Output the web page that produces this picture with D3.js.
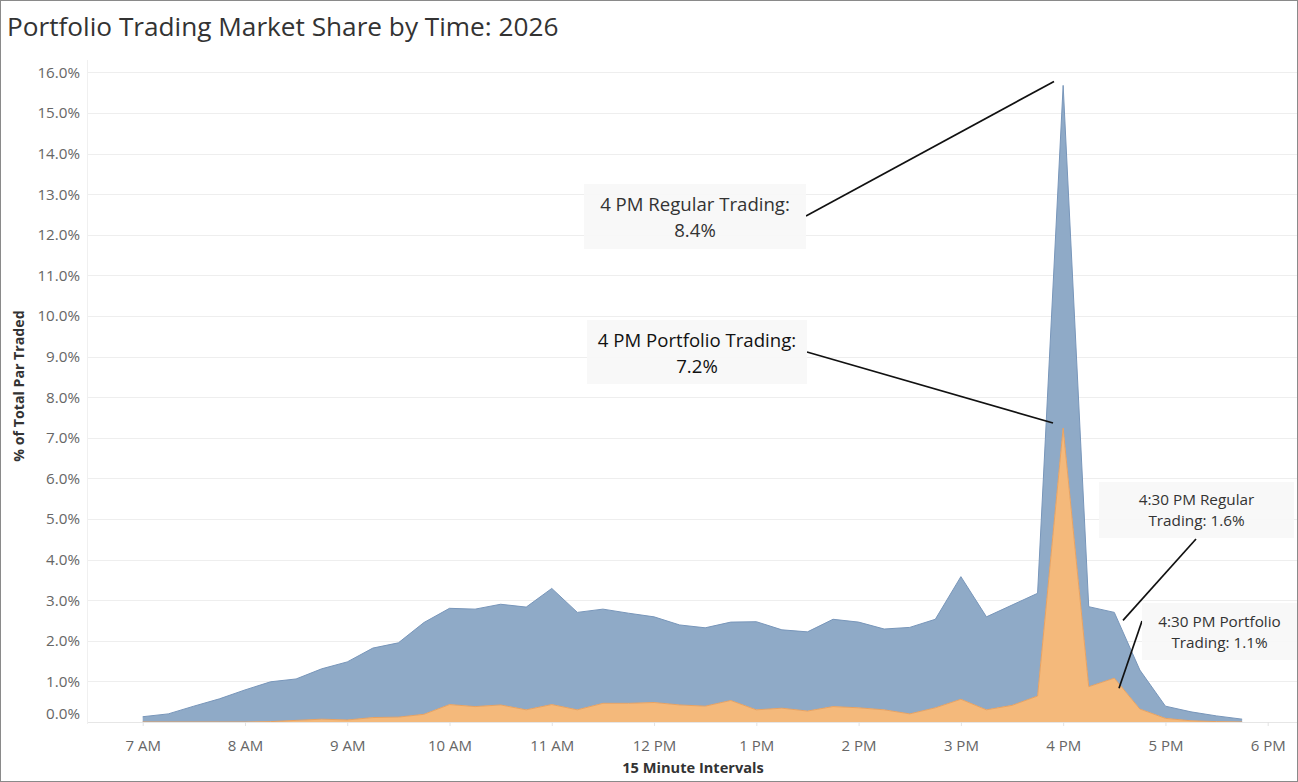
<!DOCTYPE html>
<html>
<head>
<meta charset="utf-8">
<script src="https://cdn.jsdelivr.net/npm/d3@7"></script>
<style>
  html, body { margin: 0; padding: 0; background: #fff; }
  svg { display: block; font-family: "Open Sans", "Noto Sans", sans-serif; }
</style>
</head>
<body>
<svg id="chart" width="1298" height="782"></svg>
<script>
// ---- Data (percent of total par traded, 15-minute intervals) ----
const times = ["7:00","7:15","7:30","7:45","8:00","8:15","8:30","8:45","9:00","9:15","9:30","9:45",
  "10:00","10:15","10:30","10:45","11:00","11:15","11:30","11:45","12:00","12:15","12:30","12:45",
  "13:00","13:15","13:30","13:45","14:00","14:15","14:30","14:45","15:00","15:15","15:30","15:45",
  "16:00","16:15","16:30","16:45","17:00","17:15","17:30","17:45"];
const portfolio = [0,0,0,0, 0,0.01,0.04,0.07, 0.05,0.11,0.12,0.19,
  0.43,0.38,0.42,0.30, 0.43,0.30,0.46,0.46, 0.48,0.42,0.39,0.53,
  0.30,0.34,0.27,0.38, 0.35,0.30,0.20,0.35, 0.56,0.30,0.41,0.64,
  7.24,0.87,1.08,0.32, 0.09,0.03,0.01,0.0];
const regular = [0.13,0.20,0.39,0.57, 0.79,0.98,1.02,1.24, 1.43,1.71,1.83,2.26,
  2.37,2.40,2.48,2.53, 2.86,2.40,2.32,2.22, 2.11,1.97,1.93,1.93,
  2.17,1.93,1.95,2.15, 2.11,1.99,2.13,2.18, 3.02,2.29,2.47,2.53,
  8.44,1.97,1.62,0.96, 0.30,0.22,0.14,0.07];
const hourTicks = [7,8,9,10,11,12,13,14,15,16,17,18];
const hourLabels = ["7 AM","8 AM","9 AM","10 AM","11 AM","12 PM","1 PM","2 PM","3 PM","4 PM","5 PM","6 PM"];
const yTicks = [0,1,2,3,4,5,6,7,8,9,10,11,12,13,14,15,16];
const annotations = [
  {lines:["4 PM Regular Trading:","8.4%"], time:"16:00", series:"total"},
  {lines:["4 PM Portfolio Trading:","7.2%"], time:"16:00", series:"portfolio"},
  {lines:["4:30 PM Regular","Trading: 1.6%"], time:"16:30", series:"total"},
  {lines:["4:30 PM Portfolio","Trading: 1.1%"], time:"16:30", series:"portfolio"}
];

// ---- Setup ----
const W = 1298, H = 782;
const svg = d3.select("#chart");
const toHour = t => { const [h,m] = t.split(":").map(Number); return h + m/60; };
const rows = times.map((t,i) => ({hour: toHour(t), portfolio: portfolio[i], regular: regular[i]}));

const x = d3.scaleLinear().domain([7, 18]).range([142.7, 1267.7]);
const y = d3.scaleLinear().domain([0, 16]).range([722, 72.4]);

// frame
svg.append("rect").attr("x",0.5).attr("y",0.5).attr("width",W-1).attr("height",H-1)
  .attr("fill","#fff").attr("stroke","#8a8a8a").attr("stroke-width",1);

// title
svg.append("text").attr("x",7).attr("y",36).attr("fill","#333")
  .style("font-size","26.2px").text("Portfolio Trading Market Share by Time: 2026");

// gridlines
svg.append("g").selectAll("line").data(yTicks).join("line")
  .attr("x1",88).attr("x2",W-1).attr("y1",d=>Math.round(y(d))+0.5).attr("y2",d=>Math.round(y(d))+0.5)
  .attr("stroke","#eeeeee").attr("stroke-width",1);
// y axis line (light)
svg.append("line").attr("x1",87.5).attr("x2",87.5).attr("y1",60).attr("y2",724)
  .attr("stroke","#f0f0f0");

// y axis labels
const yAxis = d3.axisLeft(y).tickValues(yTicks).tickFormat(d => d.toFixed(1) + "%").tickSize(0).tickPadding(0);
const gy = svg.append("g").attr("transform","translate(80,0)").call(yAxis);
gy.select(".domain").remove();
gy.selectAll("text").attr("fill","#666").style("font-size","15.2px").style("font-family","'Open Sans', sans-serif");
gy.selectAll(".tick").filter(d => d === 0).select("text").attr("dy","-0.25em");

// y title
svg.append("text").attr("transform","translate(24,386) rotate(-90)").attr("text-anchor","middle")
  .attr("fill","#333").style("font-size","14.2px").style("font-weight","bold").text("% of Total Par Traded");

// stacked areas
const stack = d3.stack().keys(["portfolio","regular"]);
const series = stack(rows);
const area = d3.area().x(d => x(d.data.hour)).y0(d => y(d[0])).y1(d => y(d[1]));
const topLine = d3.line().x(d => x(d.data.hour)).y(d => y(d[1]));
const fills = {portfolio:"#f4b97b", regular:"#8faac7"};
const strokes = {portfolio:"#e9a260", regular:"#7896ba"};
svg.append("g").selectAll("path.area").data(series).join("path")
  .attr("class","area").attr("d",area).attr("fill",d=>fills[d.key]);
svg.append("g").selectAll("path.top").data(series).join("path")
  .attr("class","top").attr("d",topLine).attr("fill","none")
  .attr("stroke",d=>strokes[d.key]).attr("stroke-width",1);
// baseline
svg.append("line").attr("x1",88).attr("x2",W-1).attr("y1",722.5).attr("y2",722.5).attr("stroke","#e6e6e6");

// x axis
const xAxis = d3.axisBottom(x).tickValues(hourTicks).tickFormat((d,i)=>hourLabels[i]).tickSize(4).tickPadding(14);
const gx = svg.append("g").attr("transform","translate(0,722)").call(xAxis);
gx.select(".domain").remove();
gx.selectAll("line").attr("stroke","#e3e3e3");
gx.selectAll("text").attr("fill","#666").style("font-size","15px").style("font-family","'Open Sans', sans-serif");

svg.append("text").attr("x",693).attr("y",773).attr("text-anchor","middle").attr("fill","#333")
  .style("font-size","14.6px").style("font-weight","bold").text("15 Minute Intervals");

// annotations
const valueAt = (t, s) => { const r = rows.find(r => Math.abs(r.hour - toHour(t)) < 1e-6);
  return s === "total" ? r.portfolio + r.regular : r.portfolio; };
const boxes = [
  {bx:584, by:184, bw:222, bh:65, fs:18.6, l1:211, l2:237, lx:806, ly:216, ex:1054, eyOff:-4},
  {bx:587, by:320, bw:220, bh:64, fs:18.6, l1:347, l2:373, lx:807, ly:352, ex:1053, eyOff:-5, color:"#111"},
  {bx:1099, by:482, bw:195, bh:56, fs:15.3, l1:505, l2:526, lx:1196, ly:539, ex:1123, eyOff:8},
  {bx:1142, by:603, bw:155, bh:57, fs:15.3, l1:627, l2:648, lx:1142, ly:621, ex:1119, eyOff:10}
];
const ga = svg.append("g");
annotations.forEach((a,i) => {
  const b = boxes[i];
  const ey = y(valueAt(a.time, a.series)) + b.eyOff;
  ga.append("line").attr("x1",b.lx).attr("y1",b.ly).attr("x2",b.ex).attr("y2",ey)
    .attr("stroke","#111").attr("stroke-width",1.7);
  ga.append("rect").attr("x",b.bx).attr("y",b.by).attr("width",b.bw).attr("height",b.bh)
    .attr("fill","#f7f7f7").attr("fill-opacity",0.9);
  ga.append("text").attr("x",b.bx+b.bw/2).attr("y",b.l1).attr("text-anchor","middle")
    .attr("fill",b.color||"#333").style("font-size",b.fs+"px").text(a.lines[0]);
  ga.append("text").attr("x",b.bx+b.bw/2).attr("y",b.l2).attr("text-anchor","middle")
    .attr("fill",b.color||"#333").style("font-size",b.fs+"px").text(a.lines[1]);
});
</script>
</body>
</html>
